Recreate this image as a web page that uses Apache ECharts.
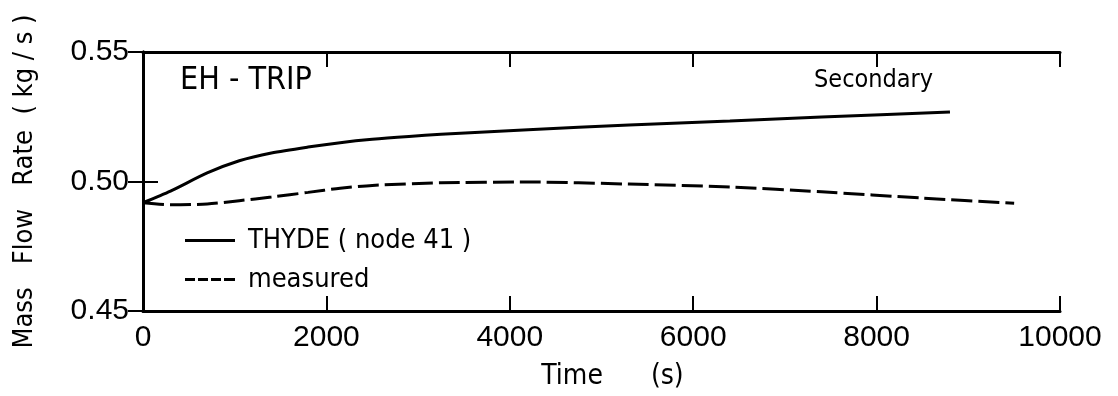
<!DOCTYPE html>
<html>
<head>
<meta charset="utf-8">
<script src="https://cdn.jsdelivr.net/npm/echarts@6/dist/echarts.min.js"></script>
<style>html,body{margin:0;padding:0;background:#fff}#c{width:1118px;height:396px}</style>
</head>
<body>
<div id="c"></div>
<script>
// ---- data ----
const thydeT = [0, 300, 700, 1050, 1400, 1800, 2150, 2500, 2900, 3250, 4200, 5300, 6400, 7400, 8800];
const thydeV = [0.4918, 0.4963, 0.5033, 0.5080, 0.5110, 0.5133, 0.5150, 0.5163, 0.5174, 0.5182, 0.5200, 0.5218, 0.5234, 0.5249, 0.5268];
const measT = [0, 300, 700, 1050, 1400, 1800, 2150, 2500, 3250, 4200, 5300, 6400, 7400, 8500, 9500];
const measV = [0.4918, 0.4910, 0.4913, 0.4926, 0.4940, 0.4958, 0.4974, 0.4985, 0.4995, 0.4998, 0.4990, 0.4979, 0.4960, 0.4936, 0.4916];
const seriesNames = ['THYDE ( node 41 )', 'measured'];
const xTicks = [0, 2000, 4000, 6000, 8000, 10000];
const yTicks = [0.45, 0.50, 0.55];
const yTitle = 'Mass   Flow   Rate  ( kg / s )';
const xTitle = 'Time      (s)';
const caseLabel = 'EH - TRIP';
const sideLabel = 'Secondary';

const pair = (t, v) => t.map((x, i) => [x, v[i]]);
const tickFont = '"Liberation Sans", Arial, sans-serif';
const textFont = '"DejaVu Sans Condensed", "DejaVu Sans", sans-serif';
const axisLine = {show: true, lineStyle: {color: '#000', width: 3}};
const tick = {show: true, inside: true, length: 15, lineStyle: {color: '#000', width: 2}};
const solidIcon = 'path://M0,0H50V3H0Z';
const dashIcon = 'path://M0,0H10V3H0Z M13,0H23V3H13Z M26,0H36V3H26Z M39,0H50V3H39Z';

const chart = echarts.init(document.getElementById('c'), null, {renderer: 'canvas'});
chart.setOption({
  backgroundColor: '#fff',
  animation: false,
  grid: {left: 143, right: 58, top: 52, bottom: 85, containLabel: false, outerBoundsMode: 'none'},
  legend: {
    orient: 'vertical', left: 180, top: 222,
    itemWidth: 50, itemHeight: 3, itemGap: 12,
    textStyle: {fontFamily: textFont, fontSize: 27, color: '#000', padding: [0, 0, 0, 8]},
    data: [
      {name: seriesNames[0], icon: solidIcon, itemStyle: {color: '#000'}},
      {name: seriesNames[1], icon: dashIcon, itemStyle: {color: '#000'}}
    ]
  },
  xAxis: [{
    type: 'value', min: xTicks[0], max: xTicks[xTicks.length - 1], interval: 2000,
    axisLine: axisLine, axisTick: tick, splitLine: {show: false},
    axisLabel: {color: '#000', fontFamily: tickFont, fontSize: 30, margin: 12, formatter: v => String(v)},
    name: xTitle, nameLocation: 'middle', nameGap: 52,
    nameTextStyle: {color: '#000', fontFamily: textFont, fontSize: 28, verticalAlign: 'top', padding: [0, 0, 0, 22]}
  }, {
    type: 'value', position: 'top', min: xTicks[0], max: xTicks[xTicks.length - 1], interval: 2000,
    axisLine: axisLine, axisTick: tick, splitLine: {show: false}, axisLabel: {show: false}
  }],
  yAxis: [{
    type: 'value', min: yTicks[0], max: yTicks[yTicks.length - 1], interval: 0.05,
    axisLine: axisLine, axisTick: tick, splitLine: {show: false},
    axisLabel: {color: '#000', fontFamily: tickFont, fontSize: 30, margin: 14, formatter: v => v.toFixed(2)},
    name: yTitle, nameLocation: 'middle', nameRotate: 90, nameGap: 105,
    nameTextStyle: {color: '#000', fontFamily: textFont, fontSize: 27}
  }, {
    type: 'value', position: 'right', min: yTicks[0], max: yTicks[yTicks.length - 1], interval: 0.05,
    axisLine: axisLine, axisTick: tick, splitLine: {show: false}, axisLabel: {show: false}
  }],
  graphic: [
    {type: 'text', left: 180, top: 65, style: {text: caseLabel, font: '32px ' + textFont, fill: '#000'}},
    {type: 'text', left: 814, top: 68, style: {text: sideLabel, font: '25px ' + textFont, fill: '#000'}}
  ],
  series: [{
    name: seriesNames[0], type: 'line', data: pair(thydeT, thydeV), smooth: 0.25,
    symbol: 'none', lineStyle: {color: '#000', width: 3}, itemStyle: {color: '#000'}
  }, {
    name: seriesNames[1], type: 'line', data: pair(measT, measV), smooth: 0.25,
    symbol: 'none', lineStyle: {color: '#000', width: 3, type: [21, 6]}, itemStyle: {color: '#000'}
  }]
});
</script>
</body>
</html>
